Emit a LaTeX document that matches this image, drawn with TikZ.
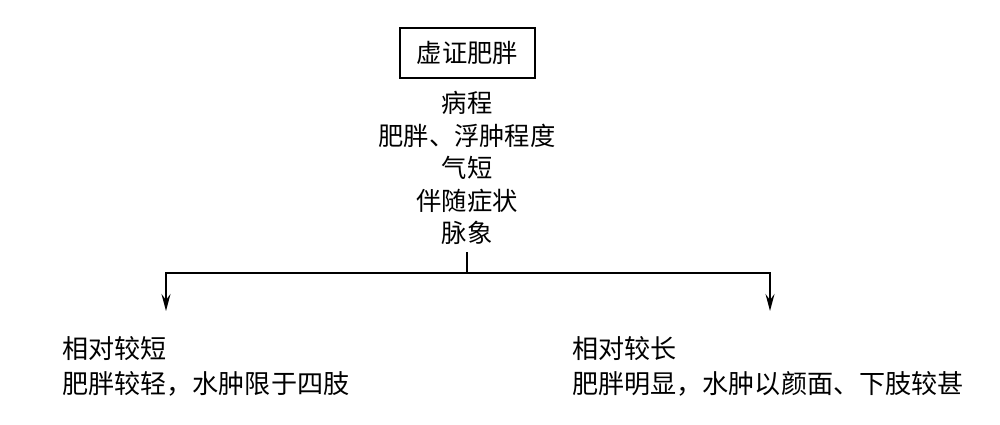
\documentclass[tikz,border=0pt]{standalone}
\usepackage{fontspec}
\newfontfamily\cjk{Noto Sans CJK SC}
\usetikzlibrary{arrows.meta}
\begin{document}
\begin{tikzpicture}[x=1pt,y=-1pt,
  every node/.style={inner sep=0pt},
  txt/.style={font=\cjk\fontsize{25.3}{32.5}\selectfont, align=center},
  lefttxt/.style={font=\cjk\fontsize{26.1}{35}\selectfont, align=left, anchor=west},
  frame/.style={draw, line width=1.8pt, minimum width=135pt, minimum height=50pt},
  conn/.style={line width=1.8pt},
  arr/.style={conn, -{Stealth[length=17pt, width=9pt, inset=6pt]}}]
\useasboundingbox (0,0) rectangle (1000,424);
\node[frame, txt] (top) at (467.5,53) {虚证肥胖};
\node[txt] (crit) at (467,168) {病程\\肥胖、浮肿程度\\气短\\伴随症状\\脉象};
\coordinate (s) at (467,252);
\coordinate (j) at (467,273);
\coordinate (l) at (166,311);
\coordinate (r) at (770,311);
\draw[conn] (s) -- (j);
\draw[arr] (j) -| (l);
\draw[arr] (j) -| (r);
\node[lefttxt] (lt) at (62,366) {相对较短\\肥胖较轻，水肿限于四肢};
\node[lefttxt] (rt) at (572,366) {相对较长\\肥胖明显，水肿以颜面、下肢较甚};
\end{tikzpicture}
\end{document}
